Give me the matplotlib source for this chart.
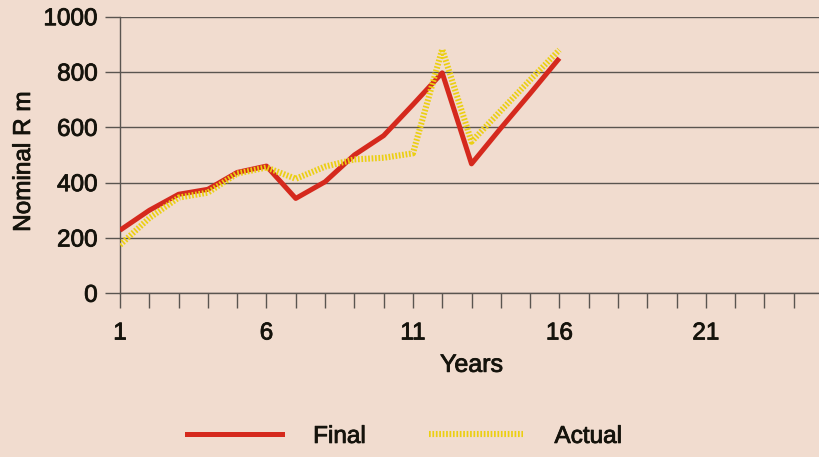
import matplotlib
matplotlib.use("Agg")
import matplotlib.pyplot as plt
from matplotlib.lines import Line2D
import matplotlib.patheffects as pe

years = list(range(1, 17))
final = [228, 300, 358, 376, 437, 460, 343, 403, 500, 570, 682, 797, 468, 597, 722, 850]
actual = [175, 272, 346, 364, 433, 455, 414, 458, 484, 490, 506, 882, 548, 660, 771, 880]
xticks_labeled = [1, 6, 11, 16, 21]
yticks = [0, 200, 400, 600, 800, 1000]

BG = "#f1dccf"
RED = "#d5291d"
YEL = "#ebcf12"
TXT = "#15130c"
GRID = "#5a5550"

plt.rcParams["font.family"] = ["Liberation Sans", "DejaVu Sans"]
heavy = [pe.withStroke(linewidth=0.6, foreground=TXT)]

fig = plt.figure(figsize=(8.19, 4.57), dpi=100, facecolor=BG)
W, H = 819, 457
x0, x25 = 120, 823
y0, y1000 = 293.3, 16.7
ax = fig.add_axes([x0 / W, (H - y0) / H, (x25 - x0) / W, (y0 - y1000) / H])
ax.set_facecolor(BG)
ax.set_xlim(1, 25)
ax.set_ylim(0, 1000)

for s in ["top", "right"]:
    ax.spines[s].set_visible(False)
for s in ["left", "bottom"]:
    ax.spines[s].set_color(GRID)
    ax.spines[s].set_linewidth(1.0)

ax.set_yticks(yticks)
ax.set_yticklabels([str(v) for v in yticks])
ax.set_xticks(range(1, 26))
ax.set_xticklabels([str(v) if v in xticks_labeled else "" for v in range(1, 26)])
ax.tick_params(axis="both", colors=GRID, labelcolor=TXT, labelsize=17.5,
               length=11, width=1.0, direction="out")
ax.tick_params(axis="x", pad=10)
ax.tick_params(axis="y", pad=5)
ax.yaxis.grid(True, color=GRID, linewidth=1.0)
ax.set_axisbelow(True)
for lbl in ax.get_xticklabels() + ax.get_yticklabels():
    lbl.set_path_effects(heavy)

ax.plot(years, final, color=RED, lw=3.6, solid_capstyle="butt", zorder=3)
ax.plot(years, actual, color=YEL, lw=4.4, linestyle=(0, (0.28, 0.28)),
        dash_capstyle="butt", zorder=4)

ax.set_xlabel("Years", fontsize=18, color=TXT, labelpad=6, path_effects=heavy)
ax.set_ylabel("Nominal R m", fontsize=17.5, color=TXT, path_effects=heavy)
ax.yaxis.set_label_coords(-0.121, 0.475)

handles = [Line2D([], [], color=RED, lw=3.6),
           Line2D([], [], color=YEL, lw=4.4, linestyle=(0, (0.28, 0.28)), dash_capstyle="butt")]
leg = fig.legend(handles, ["Final", "Actual"], loc="center", bbox_to_anchor=(0.494, 0.044),
                 ncol=2, frameon=False, fontsize=17.5, handlelength=3.87, handletextpad=1.3,
                 columnspacing=2.6, labelcolor=TXT)
for t in leg.get_texts():
    t.set_path_effects(heavy)

fig.savefig("out.png", dpi=100, facecolor=BG)
